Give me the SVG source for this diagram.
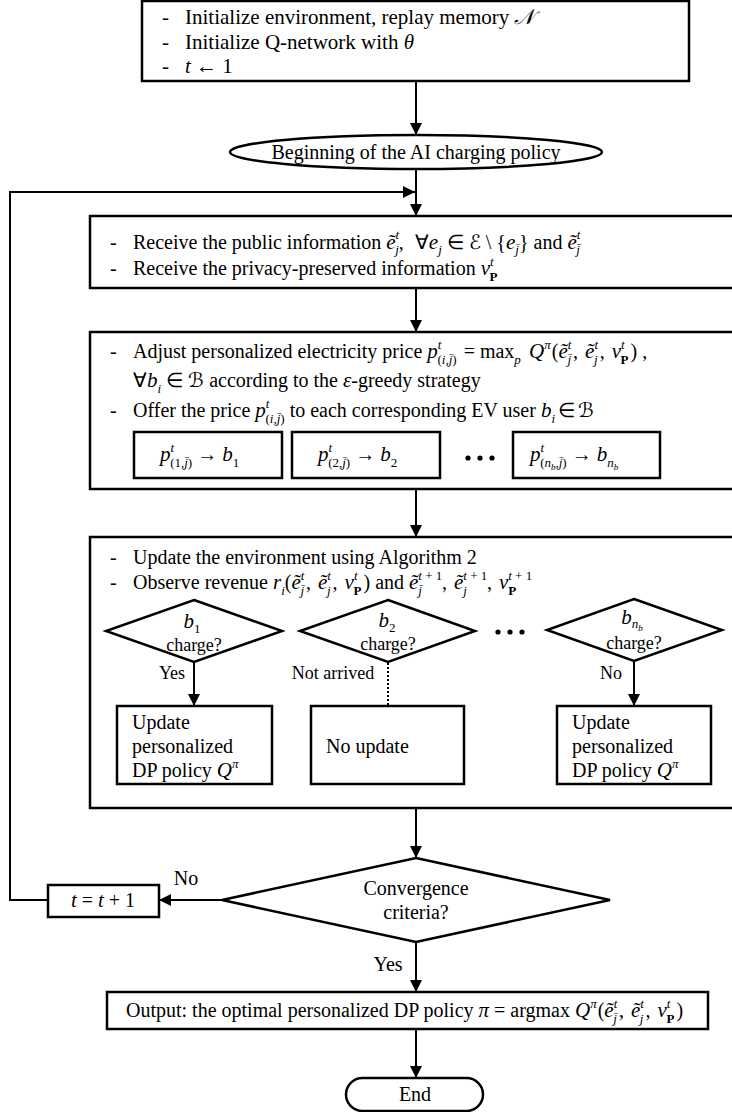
<svg xmlns="http://www.w3.org/2000/svg" width="732" height="1112" viewBox="0 0 732 1112">
<defs>
<marker id="ah" markerUnits="userSpaceOnUse" markerWidth="12" markerHeight="12" refX="12" refY="6" orient="auto"><path d="M0,0 L12,6 L0,12 z" fill="#000"/></marker>
<style>
text{font-family:"Liberation Serif","Times New Roman",serif;font-size:20px;fill:#000}
.big{font-size:21px}
.lbl{font-size:18px}
.i{font-style:italic}
.m{font-style:italic;font-size:21px}
.s{font-size:13px}
.ss{font-size:9px}
.b{font-weight:bold}
.box{fill:#fff;stroke:#000;stroke-width:2.5}
.ln{fill:none;stroke:#000;stroke-width:2}
.arr{fill:none;stroke:#000;stroke-width:2;marker-end:url(#ah)}
.dot{fill:none;stroke:#000;stroke-width:2;stroke-dasharray:2 2}
.mid{text-anchor:middle}
</style>
</defs>
<rect width="732" height="1112" fill="#fff"/>

<g id="connectors">
<line class="arr" x1="416" y1="81" x2="416" y2="135"/>
<line class="arr" x1="416" y1="169" x2="416" y2="216"/>
<polyline class="arr" points="48,900 10,900 10,192 415,192"/>
<line class="arr" x1="416" y1="288" x2="416" y2="332"/>
<line class="arr" x1="416" y1="489" x2="416" y2="537"/>
<line class="arr" x1="416" y1="808" x2="416" y2="858"/>
<line class="arr" x1="222" y1="900" x2="159" y2="900"/>
<line class="arr" x1="416" y1="942" x2="416" y2="992"/>
<line class="arr" x1="416" y1="1029" x2="416" y2="1078"/>
</g>

<g id="init">
<rect class="box" x="142" y="1" width="547" height="80"/>
<text class="big" x="162" y="24">-</text>
<text class="big" x="185" y="24">Initialize environment, replay memory <tspan class="i">𝒩</tspan></text>
<text class="big" x="162" y="49">-</text>
<text class="big" x="185" y="49">Initialize Q-network with <tspan class="i">θ</tspan></text>
<text class="big" x="162" y="73">-</text>
<text class="big" x="185" y="73"><tspan class="m">t</tspan> ← 1</text>
</g>

<g id="begin">
<ellipse cx="416" cy="152" rx="186" ry="17" fill="#fff" stroke="#000" stroke-width="2.5"/>
<text class="mid" x="416" y="159">Beginning of the AI charging policy</text>
</g>

<g id="receive">
<rect class="box" x="90" y="216" width="650" height="72"/>
<text x="110" y="249">-</text>
<text x="133" y="249">Receive the public information <tspan class="m">ẽ</tspan><tspan class="s i" dy="-10">t</tspan><tspan class="s i" dx="-4" dy="15">j</tspan><tspan dy="-5">, </tspan><tspan dx="6">∀</tspan><tspan class="m">e</tspan><tspan class="s i" dy="5">j</tspan><tspan dy="-5"> ∈ ℰ \ {</tspan><tspan class="m">e</tspan><tspan class="s i" dy="5">j̄</tspan><tspan dy="-5">} and </tspan><tspan class="m">ẽ</tspan><tspan class="s i" dy="-10">t</tspan><tspan class="s i" dx="-4" dy="15">j̄</tspan></text>
<text x="110" y="275">-</text>
<text x="133" y="275">Receive the privacy-preserved information <tspan class="m">v</tspan><tspan class="s i" dy="-9">t</tspan><tspan class="s b" dx="-4" dy="15">P</tspan></text>
</g>

<g id="adjust">
<rect class="box" x="90" y="332" width="650" height="157"/>
<text x="110" y="358">-</text>
<text x="133" y="358">Adjust personalized electricity price <tspan class="m">p</tspan><tspan class="s i" dy="-9">t</tspan><tspan class="s" dx="-4" dy="15">(<tspan class="i">i</tspan>,<tspan class="i">j̄</tspan>)</tspan><tspan dx="2" dy="-6"> = max</tspan><tspan class="s i" dy="6">p</tspan><tspan class="m" dx="3" dy="-6"> Q</tspan><tspan class="s i" dy="-9">π</tspan><tspan dx="1" dy="9">(</tspan><tspan class="m">ẽ</tspan><tspan class="s i" dy="-9">t</tspan><tspan class="s i" dx="-4" dy="15">j̄</tspan><tspan dx="2" dy="-6">, </tspan><tspan class="m" dx="2">ẽ</tspan><tspan class="s i" dy="-9">t</tspan><tspan class="s i" dx="-4" dy="15">j</tspan><tspan dx="2" dy="-6">, </tspan><tspan class="m" dx="2">v</tspan><tspan class="s i" dy="-9">t</tspan><tspan class="s b" dx="-4" dy="15">P</tspan><tspan dx="2" dy="-6">) ,</tspan></text>
<text x="133" y="387">∀<tspan class="m">b</tspan><tspan class="s i" dy="6">i</tspan><tspan dy="-6"> ∈ ℬ according to the </tspan><tspan class="m">ε</tspan>-greedy strategy</text>
<text x="110" y="417">-</text>
<text x="133" y="417">Offer the price <tspan class="m">p</tspan><tspan class="s i" dy="-9">t</tspan><tspan class="s" dx="-4" dy="15">(<tspan class="i">i</tspan>,<tspan class="i">j̄</tspan>)</tspan><tspan dy="-6"> to each corresponding EV user </tspan><tspan class="m">b</tspan><tspan class="s i" dy="6">i</tspan><tspan dx="3" dy="-6">∈</tspan><tspan dx="3">ℬ</tspan></text>
</g>

<g id="offer1">
<rect class="box" x="134" y="432" width="148" height="46"/>
<text x="160" y="461"><tspan class="m">p</tspan><tspan class="s i" dy="-9">t</tspan><tspan class="s" dx="-4" dy="15">(1,<tspan class="i">j̄</tspan>)</tspan><tspan dy="-6"> → </tspan><tspan class="m">b</tspan><tspan class="s" dy="6">1</tspan></text>
</g>
<g id="offer2">
<rect class="box" x="292" y="432" width="148" height="46"/>
<text x="318" y="461"><tspan class="m">p</tspan><tspan class="s i" dy="-9">t</tspan><tspan class="s" dx="-4" dy="15">(2,<tspan class="i">j̄</tspan>)</tspan><tspan dy="-6"> → </tspan><tspan class="m">b</tspan><tspan class="s" dy="6">2</tspan></text>
</g>
<g id="offer-dots">
<circle cx="468" cy="458" r="2.6"/><circle cx="480" cy="458" r="2.6"/><circle cx="492" cy="458" r="2.6"/>
</g>
<g id="offerN">
<rect class="box" x="513" y="432" width="147" height="46"/>
<text x="530" y="461"><tspan class="m">p</tspan><tspan class="s i" dy="-9">t</tspan><tspan class="s" dx="-4" dy="15">(<tspan class="i">n</tspan><tspan class="ss i" dy="3">b</tspan><tspan dy="-3">,</tspan><tspan class="i">j̄</tspan>)</tspan><tspan dy="-6"> → </tspan><tspan class="m">b</tspan><tspan class="s i" dy="6">n</tspan><tspan class="ss i" dy="3">b</tspan></text>
</g>

<g id="update-env">
<rect class="box" x="90" y="537" width="650" height="271"/>
<text x="110" y="564">-</text>
<text x="133" y="564">Update the environment using Algorithm 2</text>
<text x="110" y="589">-</text>
<text x="133" y="589">Observe revenue <tspan class="m">r</tspan><tspan class="s i" dy="6">i</tspan><tspan dy="-6">(</tspan><tspan class="m">ẽ</tspan><tspan class="s i" dy="-9">t</tspan><tspan class="s i" dx="-4" dy="15">j̄</tspan><tspan dx="2" dy="-6">, </tspan><tspan class="m" dx="2">ẽ</tspan><tspan class="s i" dy="-9">t</tspan><tspan class="s i" dx="-4" dy="15">j</tspan><tspan dx="2" dy="-6">, </tspan><tspan class="m" dx="2">v</tspan><tspan class="s i" dy="-9">t</tspan><tspan class="s b" dx="-4" dy="15">P</tspan><tspan dx="2" dy="-6">) and </tspan><tspan class="m">ẽ</tspan><tspan class="s" dy="-9"><tspan class="i">t</tspan> + 1</tspan><tspan class="s i" dx="-24" dy="15">j̄</tspan><tspan dx="20" dy="-6">, </tspan><tspan class="m" dx="2">ẽ</tspan><tspan class="s" dy="-9"><tspan class="i">t</tspan> + 1</tspan><tspan class="s i" dx="-24" dy="15">j</tspan><tspan dx="20" dy="-6">, </tspan><tspan class="m" dx="2">v</tspan><tspan class="s" dy="-9"><tspan class="i">t</tspan> + 1</tspan><tspan class="s b" dx="-24" dy="15">P</tspan></text>
</g>

<g id="dec1">
<polygon class="box" points="194,600 282,631 194,662 106,631"/>
<text class="mid" x="192" y="628"><tspan class="m">b</tspan><tspan class="s" dy="5">1</tspan></text>
<text class="mid lbl" x="194" y="651">charge?</text>
</g>
<g id="dec2">
<polygon class="box" points="388,600 475,631 388,662 300,631"/>
<text class="mid" x="387" y="627"><tspan class="m">b</tspan><tspan class="s" dy="5">2</tspan></text>
<text class="mid lbl" x="388" y="650">charge?</text>
</g>
<g id="dec-dots">
<circle cx="498" cy="632" r="2.6"/><circle cx="510" cy="632" r="2.6"/><circle cx="522" cy="632" r="2.6"/>
</g>
<g id="decN">
<polygon class="box" points="634,599 722,630 634,661 547,630"/>
<text class="mid" x="632" y="624"><tspan class="m">b</tspan><tspan class="s i" dy="4">n</tspan><tspan class="ss i" dy="3">b</tspan></text>
<text class="mid lbl" x="634" y="649">charge?</text>
</g>

<g id="branch-connectors">
<line class="arr" x1="194" y1="662" x2="194" y2="706"/>
<line class="dot" x1="388" y1="663" x2="388" y2="706"/>
<line class="arr" x1="634" y1="661" x2="634" y2="706"/>
<text class="mid lbl" x="172" y="679">Yes</text>
<text class="mid lbl" x="333" y="679">Not arrived</text>
<text class="mid lbl" x="611" y="679">No</text>
</g>

<g id="upd1">
<rect class="box" x="117" y="706" width="155" height="78"/>
<text x="132" y="729">Update</text>
<text x="132" y="753">personalized</text>
<text x="132" y="777">DP policy <tspan class="m">Q</tspan><tspan class="s i" dy="-9">π</tspan></text>
</g>
<g id="noupd">
<rect class="box" x="311" y="706" width="153" height="78"/>
<text x="326" y="753">No update</text>
</g>
<g id="updN">
<rect class="box" x="557" y="706" width="154" height="78"/>
<text x="572" y="729">Update</text>
<text x="572" y="753">personalized</text>
<text x="572" y="777">DP policy <tspan class="m">Q</tspan><tspan class="s i" dy="-9">π</tspan></text>
</g>

<g id="converge">
<polygon class="box" points="416,858 610,900 416,942 222,900"/>
<text class="mid" x="416" y="895">Convergence</text>
<text class="mid" x="416" y="919">criteria?</text>
</g>
<g id="conv-labels">
<text class="mid" x="186" y="885">No</text>
<text class="mid" x="388" y="971">Yes</text>
</g>

<g id="incr">
<rect class="box" x="48" y="885" width="111" height="32"/>
<text class="mid" x="103" y="907"><tspan class="m">t</tspan> = <tspan class="m">t</tspan> + 1</text>
</g>

<g id="output">
<rect class="box" x="107" y="992" width="601" height="37"/>
<text x="126" y="1017">Output: the optimal personalized DP policy <tspan class="m">π</tspan> = argmax <tspan class="m">Q</tspan><tspan class="s i" dy="-9">π</tspan><tspan dx="1" dy="9">(</tspan><tspan class="m">ẽ</tspan><tspan class="s i" dy="-9">t</tspan><tspan class="s i" dx="-4" dy="15">j̄</tspan><tspan dx="2" dy="-6">, </tspan><tspan class="m" dx="2">ẽ</tspan><tspan class="s i" dy="-9">t</tspan><tspan class="s i" dx="-4" dy="15">j</tspan><tspan dx="2" dy="-6">, </tspan><tspan class="m" dx="2">v</tspan><tspan class="s i" dy="-9">t</tspan><tspan class="s b" dx="-4" dy="15">P</tspan><tspan dx="2" dy="-6">)</tspan></text>
</g>

<g id="end">
<rect class="box" x="346" y="1078" width="137" height="33" rx="16.5"/>
<text class="mid" x="415" y="1101">End</text>
</g>
</svg>
